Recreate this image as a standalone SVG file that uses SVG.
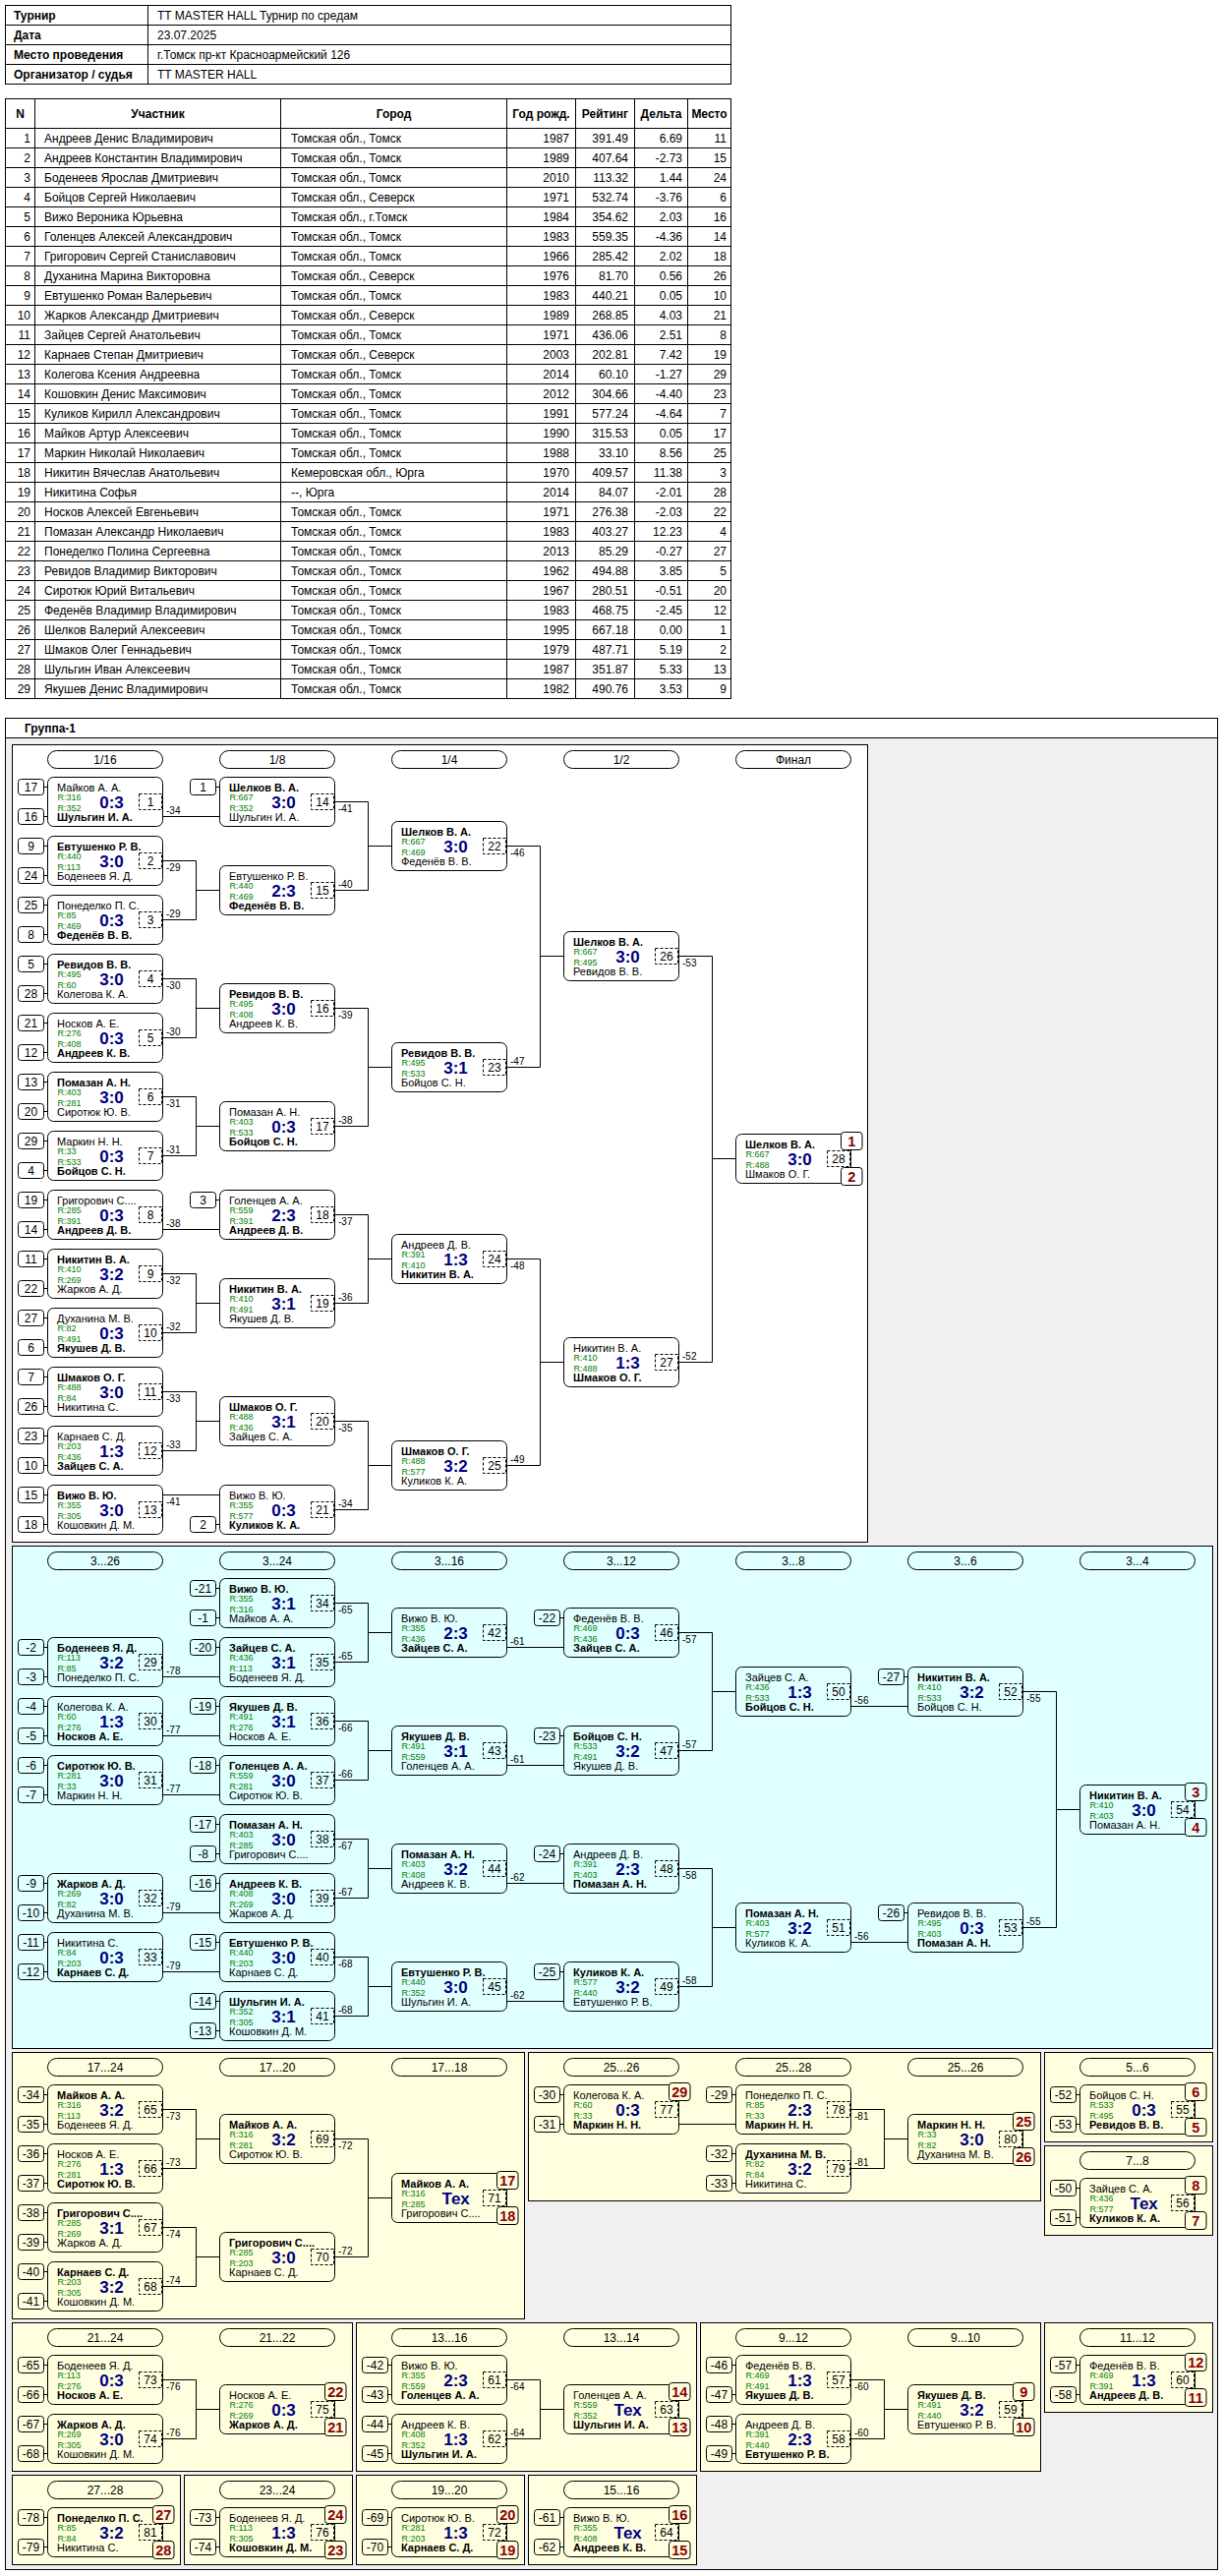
<svg xmlns="http://www.w3.org/2000/svg" width="1245" height="2620" viewBox="0 0 1245 2620">
<style>
text{font-family:"Liberation Sans",Arial,sans-serif;fill:#000}
.a{font-size:11px}
.b{font-weight:bold}
.r{font-size:9px;fill:#008000}
.s{font-size:17px;font-weight:bold;fill:#000080;text-anchor:middle}
.k{font-size:12px;text-anchor:middle}
.l{font-size:10px}
.p{font-size:14.5px;font-weight:bold;fill:#8b0000;text-anchor:middle}
.h{font-size:12px;text-anchor:middle}
.t{font-size:12px}
.tb{font-size:12px;font-weight:bold}
.ln{fill:none;stroke:#000;stroke-width:1}
.pn{stroke:#000;stroke-width:1}
</style>
<defs>
<g id="B"><rect x="0.5" y="0.5" width="117" height="50" rx="6" fill="none" stroke="#000"/><rect x="93.5" y="17.5" width="23" height="16" fill="none" stroke="#000" stroke-dasharray="3,2"/></g>
<g id="S1"><rect x="-29.5" y="2.5" width="26" height="16" rx="3" fill="none" stroke="#000"/><path d="M-3.5 10.5H0" stroke="#000"/></g>
<g id="S2"><rect x="-29.5" y="32.5" width="26" height="16" rx="3" fill="none" stroke="#000"/><path d="M-3.5 40.5H0" stroke="#000"/></g>
<rect id="P" width="21.5" height="18" rx="3" stroke="#000"/>
<rect id="H" x="0.5" y="0.5" width="117" height="18" rx="9" fill="none" stroke="#000"/>
</defs>
<rect width="1245" height="2620" fill="#fff"/>

<g id="info">
<rect x="5.5" y="5.5" width="738" height="80" fill="#fff" stroke="#000"/>
<path class="ln" d="M5.5 25.5H743.5M5.5 45.5H743.5M5.5 65.5H743.5M150.5 5.5V85.5"/>
<text class="tb" x="14" y="19.5">Турнир</text>
<text class="tb" x="14" y="39.5">Дата</text>
<text class="tb" x="14" y="59.5">Место проведения</text>
<text class="tb" x="14" y="79.5">Организатор / судья</text>
<text class="t" x="160" y="19.5">TT MASTER HALL Турнир по средам</text>
<text class="t" x="160" y="39.5">23.07.2025</text>
<text class="t" x="160" y="59.5">г.Томск пр-кт Красноармейский 126</text>
<text class="t" x="160" y="79.5">TT MASTER HALL</text>
</g>

<g id="participants">
<rect x="5.5" y="100.5" width="738" height="610" fill="#fff" stroke="#000"/>
<path class="ln" d="M5.5 130.5H743.5M5.5 150.5H743.5M5.5 170.5H743.5M5.5 190.5H743.5M5.5 210.5H743.5M5.5 230.5H743.5M5.5 250.5H743.5M5.5 270.5H743.5M5.5 290.5H743.5M5.5 310.5H743.5M5.5 330.5H743.5M5.5 350.5H743.5M5.5 370.5H743.5M5.5 390.5H743.5M5.5 410.5H743.5M5.5 430.5H743.5M5.5 450.5H743.5M5.5 470.5H743.5M5.5 490.5H743.5M5.5 510.5H743.5M5.5 530.5H743.5M5.5 550.5H743.5M5.5 570.5H743.5M5.5 590.5H743.5M5.5 610.5H743.5M5.5 630.5H743.5M5.5 650.5H743.5M5.5 670.5H743.5M5.5 690.5H743.5M35.5 100.5V710.5M285.5 100.5V710.5M515.5 100.5V710.5M585.5 100.5V710.5M645.5 100.5V710.5M699.5 100.5V710.5"/>
<g class="tb" text-anchor="middle">
<text x="20.5" y="119.5">N</text><text x="160.5" y="119.5">Участник</text><text x="400.5" y="119.5">Город</text><text x="550.5" y="119.5">Год рожд.</text><text x="615.5" y="119.5">Рейтинг</text><text x="672.5" y="119.5">Дельта</text><text x="721.5" y="119.5">Место</text>
</g>
<g class="t">
<text y="144.5"><tspan x="45">Андреев Денис Владимирович</tspan><tspan x="296">Томская обл., Томск</tspan></text>
<text y="144.5" text-anchor="end"><tspan x="31">1</tspan><tspan x="579">1987</tspan><tspan x="639">391.49</tspan><tspan x="694">6.69</tspan><tspan x="739">11</tspan></text>
<text y="164.5"><tspan x="45">Андреев Константин Владимирович</tspan><tspan x="296">Томская обл., Томск</tspan></text>
<text y="164.5" text-anchor="end"><tspan x="31">2</tspan><tspan x="579">1989</tspan><tspan x="639">407.64</tspan><tspan x="694">-2.73</tspan><tspan x="739">15</tspan></text>
<text y="184.5"><tspan x="45">Боденеев Ярослав Дмитриевич</tspan><tspan x="296">Томская обл., Томск</tspan></text>
<text y="184.5" text-anchor="end"><tspan x="31">3</tspan><tspan x="579">2010</tspan><tspan x="639">113.32</tspan><tspan x="694">1.44</tspan><tspan x="739">24</tspan></text>
<text y="204.5"><tspan x="45">Бойцов Сергей Николаевич</tspan><tspan x="296">Томская обл., Северск</tspan></text>
<text y="204.5" text-anchor="end"><tspan x="31">4</tspan><tspan x="579">1971</tspan><tspan x="639">532.74</tspan><tspan x="694">-3.76</tspan><tspan x="739">6</tspan></text>
<text y="224.5"><tspan x="45">Вижо Вероника Юрьевна</tspan><tspan x="296">Томская обл., г.Томск</tspan></text>
<text y="224.5" text-anchor="end"><tspan x="31">5</tspan><tspan x="579">1984</tspan><tspan x="639">354.62</tspan><tspan x="694">2.03</tspan><tspan x="739">16</tspan></text>
<text y="244.5"><tspan x="45">Голенцев Алексей Александрович</tspan><tspan x="296">Томская обл., Томск</tspan></text>
<text y="244.5" text-anchor="end"><tspan x="31">6</tspan><tspan x="579">1983</tspan><tspan x="639">559.35</tspan><tspan x="694">-4.36</tspan><tspan x="739">14</tspan></text>
<text y="264.5"><tspan x="45">Григорович Сергей Станиславович</tspan><tspan x="296">Томская обл., Томск</tspan></text>
<text y="264.5" text-anchor="end"><tspan x="31">7</tspan><tspan x="579">1966</tspan><tspan x="639">285.42</tspan><tspan x="694">2.02</tspan><tspan x="739">18</tspan></text>
<text y="284.5"><tspan x="45">Духанина Марина Викторовна</tspan><tspan x="296">Томская обл., Северск</tspan></text>
<text y="284.5" text-anchor="end"><tspan x="31">8</tspan><tspan x="579">1976</tspan><tspan x="639">81.70</tspan><tspan x="694">0.56</tspan><tspan x="739">26</tspan></text>
<text y="304.5"><tspan x="45">Евтушенко Роман Валерьевич</tspan><tspan x="296">Томская обл., Томск</tspan></text>
<text y="304.5" text-anchor="end"><tspan x="31">9</tspan><tspan x="579">1983</tspan><tspan x="639">440.21</tspan><tspan x="694">0.05</tspan><tspan x="739">10</tspan></text>
<text y="324.5"><tspan x="45">Жарков Александр Дмитриевич</tspan><tspan x="296">Томская обл., Северск</tspan></text>
<text y="324.5" text-anchor="end"><tspan x="31">10</tspan><tspan x="579">1989</tspan><tspan x="639">268.85</tspan><tspan x="694">4.03</tspan><tspan x="739">21</tspan></text>
<text y="344.5"><tspan x="45">Зайцев Сергей Анатольевич</tspan><tspan x="296">Томская обл., Томск</tspan></text>
<text y="344.5" text-anchor="end"><tspan x="31">11</tspan><tspan x="579">1971</tspan><tspan x="639">436.06</tspan><tspan x="694">2.51</tspan><tspan x="739">8</tspan></text>
<text y="364.5"><tspan x="45">Карнаев Степан Дмитриевич</tspan><tspan x="296">Томская обл., Северск</tspan></text>
<text y="364.5" text-anchor="end"><tspan x="31">12</tspan><tspan x="579">2003</tspan><tspan x="639">202.81</tspan><tspan x="694">7.42</tspan><tspan x="739">19</tspan></text>
<text y="384.5"><tspan x="45">Колегова Ксения Андреевна</tspan><tspan x="296">Томская обл., Томск</tspan></text>
<text y="384.5" text-anchor="end"><tspan x="31">13</tspan><tspan x="579">2014</tspan><tspan x="639">60.10</tspan><tspan x="694">-1.27</tspan><tspan x="739">29</tspan></text>
<text y="404.5"><tspan x="45">Кошовкин Денис Максимович</tspan><tspan x="296">Томская обл., Томск</tspan></text>
<text y="404.5" text-anchor="end"><tspan x="31">14</tspan><tspan x="579">2012</tspan><tspan x="639">304.66</tspan><tspan x="694">-4.40</tspan><tspan x="739">23</tspan></text>
<text y="424.5"><tspan x="45">Куликов Кирилл Александрович</tspan><tspan x="296">Томская обл., Томск</tspan></text>
<text y="424.5" text-anchor="end"><tspan x="31">15</tspan><tspan x="579">1991</tspan><tspan x="639">577.24</tspan><tspan x="694">-4.64</tspan><tspan x="739">7</tspan></text>
<text y="444.5"><tspan x="45">Майков Артур Алексеевич</tspan><tspan x="296">Томская обл., Томск</tspan></text>
<text y="444.5" text-anchor="end"><tspan x="31">16</tspan><tspan x="579">1990</tspan><tspan x="639">315.53</tspan><tspan x="694">0.05</tspan><tspan x="739">17</tspan></text>
<text y="464.5"><tspan x="45">Маркин Николай Николаевич</tspan><tspan x="296">Томская обл., Томск</tspan></text>
<text y="464.5" text-anchor="end"><tspan x="31">17</tspan><tspan x="579">1988</tspan><tspan x="639">33.10</tspan><tspan x="694">8.56</tspan><tspan x="739">25</tspan></text>
<text y="484.5"><tspan x="45">Никитин Вячеслав Анатольевич</tspan><tspan x="296">Кемеровская обл., Юрга</tspan></text>
<text y="484.5" text-anchor="end"><tspan x="31">18</tspan><tspan x="579">1970</tspan><tspan x="639">409.57</tspan><tspan x="694">11.38</tspan><tspan x="739">3</tspan></text>
<text y="504.5"><tspan x="45">Никитина Софья</tspan><tspan x="296">--, Юрга</tspan></text>
<text y="504.5" text-anchor="end"><tspan x="31">19</tspan><tspan x="579">2014</tspan><tspan x="639">84.07</tspan><tspan x="694">-2.01</tspan><tspan x="739">28</tspan></text>
<text y="524.5"><tspan x="45">Носков Алексей Евгеньевич</tspan><tspan x="296">Томская обл., Томск</tspan></text>
<text y="524.5" text-anchor="end"><tspan x="31">20</tspan><tspan x="579">1971</tspan><tspan x="639">276.38</tspan><tspan x="694">-2.03</tspan><tspan x="739">22</tspan></text>
<text y="544.5"><tspan x="45">Помазан Александр Николаевич</tspan><tspan x="296">Томская обл., Томск</tspan></text>
<text y="544.5" text-anchor="end"><tspan x="31">21</tspan><tspan x="579">1983</tspan><tspan x="639">403.27</tspan><tspan x="694">12.23</tspan><tspan x="739">4</tspan></text>
<text y="564.5"><tspan x="45">Понеделко Полина Сергеевна</tspan><tspan x="296">Томская обл., Томск</tspan></text>
<text y="564.5" text-anchor="end"><tspan x="31">22</tspan><tspan x="579">2013</tspan><tspan x="639">85.29</tspan><tspan x="694">-0.27</tspan><tspan x="739">27</tspan></text>
<text y="584.5"><tspan x="45">Ревидов Владимир Викторович</tspan><tspan x="296">Томская обл., Томск</tspan></text>
<text y="584.5" text-anchor="end"><tspan x="31">23</tspan><tspan x="579">1962</tspan><tspan x="639">494.88</tspan><tspan x="694">3.85</tspan><tspan x="739">5</tspan></text>
<text y="604.5"><tspan x="45">Сиротюк Юрий Витальевич</tspan><tspan x="296">Томская обл., Томск</tspan></text>
<text y="604.5" text-anchor="end"><tspan x="31">24</tspan><tspan x="579">1967</tspan><tspan x="639">280.51</tspan><tspan x="694">-0.51</tspan><tspan x="739">20</tspan></text>
<text y="624.5"><tspan x="45">Феденёв Владимир Владимирович</tspan><tspan x="296">Томская обл., Томск</tspan></text>
<text y="624.5" text-anchor="end"><tspan x="31">25</tspan><tspan x="579">1983</tspan><tspan x="639">468.75</tspan><tspan x="694">-2.45</tspan><tspan x="739">12</tspan></text>
<text y="644.5"><tspan x="45">Шелков Валерий Алексеевич</tspan><tspan x="296">Томская обл., Томск</tspan></text>
<text y="644.5" text-anchor="end"><tspan x="31">26</tspan><tspan x="579">1995</tspan><tspan x="639">667.18</tspan><tspan x="694">0.00</tspan><tspan x="739">1</tspan></text>
<text y="664.5"><tspan x="45">Шмаков Олег Геннадьевич</tspan><tspan x="296">Томская обл., Томск</tspan></text>
<text y="664.5" text-anchor="end"><tspan x="31">27</tspan><tspan x="579">1979</tspan><tspan x="639">487.71</tspan><tspan x="694">5.19</tspan><tspan x="739">2</tspan></text>
<text y="684.5"><tspan x="45">Шульгин Иван Алексеевич</tspan><tspan x="296">Томская обл., Томск</tspan></text>
<text y="684.5" text-anchor="end"><tspan x="31">28</tspan><tspan x="579">1987</tspan><tspan x="639">351.87</tspan><tspan x="694">5.33</tspan><tspan x="739">13</tspan></text>
<text y="704.5"><tspan x="45">Якушев Денис Владимирович</tspan><tspan x="296">Томская обл., Томск</tspan></text>
<text y="704.5" text-anchor="end"><tspan x="31">29</tspan><tspan x="579">1982</tspan><tspan x="639">490.76</tspan><tspan x="694">3.53</tspan><tspan x="739">9</tspan></text>
</g>
</g>

<g id="group1-frame">
<rect x="5.5" y="730.5" width="1233" height="1883" fill="#f0f0f0" stroke="#000"/>
<rect x="5.5" y="730.5" width="1233" height="20" fill="#fff" stroke="#000"/>
<text class="tb" x="25" y="745">Группа-1</text>
</g>

<g id="panels" class="pn">
<rect x="12.5" y="757.5" width="870" height="811" fill="#fff"/>
<rect x="12.5" y="1572.5" width="1221" height="511" fill="#e0ffff"/>
<rect x="12.5" y="2087.5" width="521" height="271" fill="#ffffe0"/>
<rect x="537.5" y="2087.5" width="521" height="151" fill="#ffffe0"/>
<rect x="1062.5" y="2087.5" width="171" height="91" fill="#ffffe0"/>
<rect x="1062.5" y="2182.5" width="171" height="91" fill="#ffffe0"/>
<rect x="12.5" y="2362.5" width="346" height="151" fill="#ffffe0"/>
<rect x="362.5" y="2362.5" width="346" height="151" fill="#ffffe0"/>
<rect x="712.5" y="2362.5" width="346" height="151" fill="#ffffe0"/>
<rect x="1062.5" y="2362.5" width="171" height="91" fill="#ffffe0"/>
<rect x="12.5" y="2517.5" width="171" height="91" fill="#ffffe0"/>
<rect x="187.5" y="2517.5" width="171" height="91" fill="#ffffe0"/>
<rect x="362.5" y="2517.5" width="171" height="91" fill="#ffffe0"/>
<rect x="537.5" y="2517.5" width="171" height="91" fill="#ffffe0"/>
</g>

<g id="round-headers">
<g transform="translate(48,763)"><use href="#H"/><text class="h" x="59" y="14">1/16</text></g>
<g transform="translate(223,763)"><use href="#H"/><text class="h" x="59" y="14">1/8</text></g>
<g transform="translate(398,763)"><use href="#H"/><text class="h" x="59" y="14">1/4</text></g>
<g transform="translate(573,763)"><use href="#H"/><text class="h" x="59" y="14">1/2</text></g>
<g transform="translate(748,763)"><use href="#H"/><text class="h" x="59" y="14">Финал</text></g>
<g transform="translate(48,1578)"><use href="#H"/><text class="h" x="59" y="14">3...26</text></g>
<g transform="translate(223,1578)"><use href="#H"/><text class="h" x="59" y="14">3...24</text></g>
<g transform="translate(398,1578)"><use href="#H"/><text class="h" x="59" y="14">3...16</text></g>
<g transform="translate(573,1578)"><use href="#H"/><text class="h" x="59" y="14">3...12</text></g>
<g transform="translate(748,1578)"><use href="#H"/><text class="h" x="59" y="14">3...8</text></g>
<g transform="translate(923,1578)"><use href="#H"/><text class="h" x="59" y="14">3...6</text></g>
<g transform="translate(1098,1578)"><use href="#H"/><text class="h" x="59" y="14">3...4</text></g>
<g transform="translate(48,2093)"><use href="#H"/><text class="h" x="59" y="14">17...24</text></g>
<g transform="translate(223,2093)"><use href="#H"/><text class="h" x="59" y="14">17...20</text></g>
<g transform="translate(398,2093)"><use href="#H"/><text class="h" x="59" y="14">17...18</text></g>
<g transform="translate(573,2093)"><use href="#H"/><text class="h" x="59" y="14">25...26</text></g>
<g transform="translate(748,2093)"><use href="#H"/><text class="h" x="59" y="14">25...28</text></g>
<g transform="translate(923,2093)"><use href="#H"/><text class="h" x="59" y="14">25...26</text></g>
<g transform="translate(1098,2093)"><use href="#H"/><text class="h" x="59" y="14">5...6</text></g>
<g transform="translate(1098,2188)"><use href="#H"/><text class="h" x="59" y="14">7...8</text></g>
<g transform="translate(48,2368)"><use href="#H"/><text class="h" x="59" y="14">21...24</text></g>
<g transform="translate(223,2368)"><use href="#H"/><text class="h" x="59" y="14">21...22</text></g>
<g transform="translate(398,2368)"><use href="#H"/><text class="h" x="59" y="14">13...16</text></g>
<g transform="translate(573,2368)"><use href="#H"/><text class="h" x="59" y="14">13...14</text></g>
<g transform="translate(748,2368)"><use href="#H"/><text class="h" x="59" y="14">9...12</text></g>
<g transform="translate(923,2368)"><use href="#H"/><text class="h" x="59" y="14">9...10</text></g>
<g transform="translate(1098,2368)"><use href="#H"/><text class="h" x="59" y="14">11...12</text></g>
<g transform="translate(48,2523)"><use href="#H"/><text class="h" x="59" y="14">27...28</text></g>
<g transform="translate(223,2523)"><use href="#H"/><text class="h" x="59" y="14">23...24</text></g>
<g transform="translate(398,2523)"><use href="#H"/><text class="h" x="59" y="14">19...20</text></g>
<g transform="translate(573,2523)"><use href="#H"/><text class="h" x="59" y="14">15...16</text></g>
</g>

<g id="connectors" class="ln">
<path d="M165.5 830.5H223.5"/>
<path d="M165.5 875.5H199.5V935.5H165.5M199.5 905.5H223.5"/>
<path d="M165.5 995.5H199.5V1055.5H165.5M199.5 1025.5H223.5"/>
<path d="M165.5 1115.5H199.5V1175.5H165.5M199.5 1145.5H223.5"/>
<path d="M165.5 1250.5H223.5"/>
<path d="M165.5 1295.5H199.5V1355.5H165.5M199.5 1325.5H223.5"/>
<path d="M165.5 1415.5H199.5V1475.5H165.5M199.5 1445.5H223.5"/>
<path d="M165.5 1520.5H223.5"/>
<path d="M340.5 815.5H374.5V905.5H340.5M374.5 860.5H398.5"/>
<path d="M340.5 1025.5H374.5V1145.5H340.5M374.5 1085.5H398.5"/>
<path d="M340.5 1235.5H374.5V1325.5H340.5M374.5 1280.5H398.5"/>
<path d="M340.5 1445.5H374.5V1535.5H340.5M374.5 1490.5H398.5"/>
<path d="M515.5 860.5H549.5V1085.5H515.5M549.5 972.5H573.5"/>
<path d="M515.5 1280.5H549.5V1490.5H515.5M549.5 1385.5H573.5"/>
<path d="M690.5 972.5H724.5V1385.5H690.5M724.5 1178.5H748.5"/>
<path d="M165.5 1705.5H223.5"/>
<path d="M165.5 1765.5H223.5"/>
<path d="M165.5 1825.5H223.5"/>
<path d="M165.5 1945.5H223.5"/>
<path d="M165.5 2005.5H223.5"/>
<path d="M340.5 1630.5H374.5V1690.5H340.5M374.5 1660.5H398.5"/>
<path d="M340.5 1750.5H374.5V1810.5H340.5M374.5 1780.5H398.5"/>
<path d="M340.5 1870.5H374.5V1930.5H340.5M374.5 1900.5H398.5"/>
<path d="M340.5 1990.5H374.5V2050.5H340.5M374.5 2020.5H398.5"/>
<path d="M515.5 1675.5H573.5"/>
<path d="M515.5 1795.5H573.5"/>
<path d="M515.5 1915.5H573.5"/>
<path d="M515.5 2035.5H573.5"/>
<path d="M690.5 1660.5H724.5V1780.5H690.5M724.5 1720.5H748.5"/>
<path d="M690.5 1900.5H724.5V2020.5H690.5M724.5 1960.5H748.5"/>
<path d="M865.5 1735.5H923.5"/>
<path d="M865.5 1975.5H923.5"/>
<path d="M1040.5 1720.5H1074.5V1960.5H1040.5M1074.5 1840.5H1098.5"/>
<path d="M165.5 2145.5H199.5V2205.5H165.5M199.5 2175.5H223.5"/>
<path d="M165.5 2265.5H199.5V2325.5H165.5M199.5 2295.5H223.5"/>
<path d="M340.5 2175.5H374.5V2295.5H340.5M374.5 2235.5H398.5"/>
<path d="M690.5 2160.5H748.5"/>
<path d="M865.5 2145.5H899.5V2205.5H865.5M899.5 2175.5H923.5"/>
<path d="M165.5 2420.5H199.5V2480.5H165.5M199.5 2450.5H223.5"/>
<path d="M515.5 2420.5H549.5V2480.5H515.5M549.5 2450.5H573.5"/>
<path d="M865.5 2420.5H899.5V2480.5H865.5M899.5 2450.5H923.5"/>
</g>

<g id="nodes">
<g id="m1" transform="translate(48,790)"><use href="#B"/><use href="#S1"/><use href="#S2"/><text class="k" x="-16.5" y="15">17</text><text class="k" x="-16.5" y="45">16</text><text class="a" x="10" y="14.5">Майков А. А.</text><text class="r" x="10.5" y="24">R:316</text><text class="r" x="10.5" y="35">R:352</text><text class="a b" x="10" y="45">Шульгин И. А.</text><text class="s" x="65.5" y="31.5">0:3</text><text class="k" x="105" y="29.5">1</text><text class="l" x="121" y="38">-34</text></g>
<g id="m2" transform="translate(48,850)"><use href="#B"/><use href="#S1"/><use href="#S2"/><text class="k" x="-16.5" y="15">9</text><text class="k" x="-16.5" y="45">24</text><text class="a b" x="10" y="14.5">Евтушенко Р. В.</text><text class="r" x="10.5" y="24">R:440</text><text class="r" x="10.5" y="35">R:113</text><text class="a" x="10" y="45">Боденеев Я. Д.</text><text class="s" x="65.5" y="31.5">3:0</text><text class="k" x="105" y="29.5">2</text><text class="l" x="121" y="36">-29</text></g>
<g id="m3" transform="translate(48,910)"><use href="#B"/><use href="#S1"/><use href="#S2"/><text class="k" x="-16.5" y="15">25</text><text class="k" x="-16.5" y="45">8</text><text class="a" x="10" y="14.5">Понеделко П. С.</text><text class="r" x="10.5" y="24">R:85</text><text class="r" x="10.5" y="35">R:469</text><text class="a b" x="10" y="45">Феденёв В. В.</text><text class="s" x="65.5" y="31.5">0:3</text><text class="k" x="105" y="29.5">3</text><text class="l" x="121" y="23">-29</text></g>
<g id="m4" transform="translate(48,970)"><use href="#B"/><use href="#S1"/><use href="#S2"/><text class="k" x="-16.5" y="15">5</text><text class="k" x="-16.5" y="45">28</text><text class="a b" x="10" y="14.5">Ревидов В. В.</text><text class="r" x="10.5" y="24">R:495</text><text class="r" x="10.5" y="35">R:60</text><text class="a" x="10" y="45">Колегова К. А.</text><text class="s" x="65.5" y="31.5">3:0</text><text class="k" x="105" y="29.5">4</text><text class="l" x="121" y="36">-30</text></g>
<g id="m5" transform="translate(48,1030)"><use href="#B"/><use href="#S1"/><use href="#S2"/><text class="k" x="-16.5" y="15">21</text><text class="k" x="-16.5" y="45">12</text><text class="a" x="10" y="14.5">Носков А. Е.</text><text class="r" x="10.5" y="24">R:276</text><text class="r" x="10.5" y="35">R:408</text><text class="a b" x="10" y="45">Андреев К. В.</text><text class="s" x="65.5" y="31.5">0:3</text><text class="k" x="105" y="29.5">5</text><text class="l" x="121" y="23">-30</text></g>
<g id="m6" transform="translate(48,1090)"><use href="#B"/><use href="#S1"/><use href="#S2"/><text class="k" x="-16.5" y="15">13</text><text class="k" x="-16.5" y="45">20</text><text class="a b" x="10" y="14.5">Помазан А. Н.</text><text class="r" x="10.5" y="24">R:403</text><text class="r" x="10.5" y="35">R:281</text><text class="a" x="10" y="45">Сиротюк Ю. В.</text><text class="s" x="65.5" y="31.5">3:0</text><text class="k" x="105" y="29.5">6</text><text class="l" x="121" y="36">-31</text></g>
<g id="m7" transform="translate(48,1150)"><use href="#B"/><use href="#S1"/><use href="#S2"/><text class="k" x="-16.5" y="15">29</text><text class="k" x="-16.5" y="45">4</text><text class="a" x="10" y="14.5">Маркин Н. Н.</text><text class="r" x="10.5" y="24">R:33</text><text class="r" x="10.5" y="35">R:533</text><text class="a b" x="10" y="45">Бойцов С. Н.</text><text class="s" x="65.5" y="31.5">0:3</text><text class="k" x="105" y="29.5">7</text><text class="l" x="121" y="23">-31</text></g>
<g id="m8" transform="translate(48,1210)"><use href="#B"/><use href="#S1"/><use href="#S2"/><text class="k" x="-16.5" y="15">19</text><text class="k" x="-16.5" y="45">14</text><text class="a" x="10" y="14.5">Григорович С....</text><text class="r" x="10.5" y="24">R:285</text><text class="r" x="10.5" y="35">R:391</text><text class="a b" x="10" y="45">Андреев Д. В.</text><text class="s" x="65.5" y="31.5">0:3</text><text class="k" x="105" y="29.5">8</text><text class="l" x="121" y="38">-38</text></g>
<g id="m9" transform="translate(48,1270)"><use href="#B"/><use href="#S1"/><use href="#S2"/><text class="k" x="-16.5" y="15">11</text><text class="k" x="-16.5" y="45">22</text><text class="a b" x="10" y="14.5">Никитин В. А.</text><text class="r" x="10.5" y="24">R:410</text><text class="r" x="10.5" y="35">R:269</text><text class="a" x="10" y="45">Жарков А. Д.</text><text class="s" x="65.5" y="31.5">3:2</text><text class="k" x="105" y="29.5">9</text><text class="l" x="121" y="36">-32</text></g>
<g id="m10" transform="translate(48,1330)"><use href="#B"/><use href="#S1"/><use href="#S2"/><text class="k" x="-16.5" y="15">27</text><text class="k" x="-16.5" y="45">6</text><text class="a" x="10" y="14.5">Духанина М. В.</text><text class="r" x="10.5" y="24">R:82</text><text class="r" x="10.5" y="35">R:491</text><text class="a b" x="10" y="45">Якушев Д. В.</text><text class="s" x="65.5" y="31.5">0:3</text><text class="k" x="105" y="29.5">10</text><text class="l" x="121" y="23">-32</text></g>
<g id="m11" transform="translate(48,1390)"><use href="#B"/><use href="#S1"/><use href="#S2"/><text class="k" x="-16.5" y="15">7</text><text class="k" x="-16.5" y="45">26</text><text class="a b" x="10" y="14.5">Шмаков О. Г.</text><text class="r" x="10.5" y="24">R:488</text><text class="r" x="10.5" y="35">R:84</text><text class="a" x="10" y="45">Никитина С.</text><text class="s" x="65.5" y="31.5">3:0</text><text class="k" x="105" y="29.5">11</text><text class="l" x="121" y="36">-33</text></g>
<g id="m12" transform="translate(48,1450)"><use href="#B"/><use href="#S1"/><use href="#S2"/><text class="k" x="-16.5" y="15">23</text><text class="k" x="-16.5" y="45">10</text><text class="a" x="10" y="14.5">Карнаев С. Д.</text><text class="r" x="10.5" y="24">R:203</text><text class="r" x="10.5" y="35">R:436</text><text class="a b" x="10" y="45">Зайцев С. А.</text><text class="s" x="65.5" y="31.5">1:3</text><text class="k" x="105" y="29.5">12</text><text class="l" x="121" y="23">-33</text></g>
<g id="m13" transform="translate(48,1510)"><use href="#B"/><use href="#S1"/><use href="#S2"/><text class="k" x="-16.5" y="15">15</text><text class="k" x="-16.5" y="45">18</text><text class="a b" x="10" y="14.5">Вижо В. Ю.</text><text class="r" x="10.5" y="24">R:355</text><text class="r" x="10.5" y="35">R:305</text><text class="a" x="10" y="45">Кошовкин Д. М.</text><text class="s" x="65.5" y="31.5">3:0</text><text class="k" x="105" y="29.5">13</text><text class="l" x="121" y="21">-41</text></g>
<g id="m14" transform="translate(223,790)"><use href="#B"/><use href="#S1"/><text class="k" x="-16.5" y="15">1</text><text class="a b" x="10" y="14.5">Шелков В. А.</text><text class="r" x="10.5" y="24">R:667</text><text class="r" x="10.5" y="35">R:352</text><text class="a" x="10" y="45">Шульгин И. А.</text><text class="s" x="65.5" y="31.5">3:0</text><text class="k" x="105" y="29.5">14</text><text class="l" x="121" y="36">-41</text></g>
<g id="m15" transform="translate(223,880)"><use href="#B"/><text class="a" x="10" y="14.5">Евтушенко Р. В.</text><text class="r" x="10.5" y="24">R:440</text><text class="r" x="10.5" y="35">R:469</text><text class="a b" x="10" y="45">Феденёв В. В.</text><text class="s" x="65.5" y="31.5">2:3</text><text class="k" x="105" y="29.5">15</text><text class="l" x="121" y="23">-40</text></g>
<g id="m16" transform="translate(223,1000)"><use href="#B"/><text class="a b" x="10" y="14.5">Ревидов В. В.</text><text class="r" x="10.5" y="24">R:495</text><text class="r" x="10.5" y="35">R:408</text><text class="a" x="10" y="45">Андреев К. В.</text><text class="s" x="65.5" y="31.5">3:0</text><text class="k" x="105" y="29.5">16</text><text class="l" x="121" y="36">-39</text></g>
<g id="m17" transform="translate(223,1120)"><use href="#B"/><text class="a" x="10" y="14.5">Помазан А. Н.</text><text class="r" x="10.5" y="24">R:403</text><text class="r" x="10.5" y="35">R:533</text><text class="a b" x="10" y="45">Бойцов С. Н.</text><text class="s" x="65.5" y="31.5">0:3</text><text class="k" x="105" y="29.5">17</text><text class="l" x="121" y="23">-38</text></g>
<g id="m18" transform="translate(223,1210)"><use href="#B"/><use href="#S1"/><text class="k" x="-16.5" y="15">3</text><text class="a" x="10" y="14.5">Голенцев А. А.</text><text class="r" x="10.5" y="24">R:559</text><text class="r" x="10.5" y="35">R:391</text><text class="a b" x="10" y="45">Андреев Д. В.</text><text class="s" x="65.5" y="31.5">2:3</text><text class="k" x="105" y="29.5">18</text><text class="l" x="121" y="36">-37</text></g>
<g id="m19" transform="translate(223,1300)"><use href="#B"/><text class="a b" x="10" y="14.5">Никитин В. А.</text><text class="r" x="10.5" y="24">R:410</text><text class="r" x="10.5" y="35">R:491</text><text class="a" x="10" y="45">Якушев Д. В.</text><text class="s" x="65.5" y="31.5">3:1</text><text class="k" x="105" y="29.5">19</text><text class="l" x="121" y="23">-36</text></g>
<g id="m20" transform="translate(223,1420)"><use href="#B"/><text class="a b" x="10" y="14.5">Шмаков О. Г.</text><text class="r" x="10.5" y="24">R:488</text><text class="r" x="10.5" y="35">R:436</text><text class="a" x="10" y="45">Зайцев С. А.</text><text class="s" x="65.5" y="31.5">3:1</text><text class="k" x="105" y="29.5">20</text><text class="l" x="121" y="36">-35</text></g>
<g id="m21" transform="translate(223,1510)"><use href="#B"/><use href="#S2"/><text class="k" x="-16.5" y="45">2</text><text class="a" x="10" y="14.5">Вижо В. Ю.</text><text class="r" x="10.5" y="24">R:355</text><text class="r" x="10.5" y="35">R:577</text><text class="a b" x="10" y="45">Куликов К. А.</text><text class="s" x="65.5" y="31.5">0:3</text><text class="k" x="105" y="29.5">21</text><text class="l" x="121" y="23">-34</text></g>
<g id="m22" transform="translate(398,835)"><use href="#B"/><text class="a b" x="10" y="14.5">Шелков В. А.</text><text class="r" x="10.5" y="24">R:667</text><text class="r" x="10.5" y="35">R:469</text><text class="a" x="10" y="45">Феденёв В. В.</text><text class="s" x="65.5" y="31.5">3:0</text><text class="k" x="105" y="29.5">22</text><text class="l" x="121" y="36">-46</text></g>
<g id="m23" transform="translate(398,1060)"><use href="#B"/><text class="a b" x="10" y="14.5">Ревидов В. В.</text><text class="r" x="10.5" y="24">R:495</text><text class="r" x="10.5" y="35">R:533</text><text class="a" x="10" y="45">Бойцов С. Н.</text><text class="s" x="65.5" y="31.5">3:1</text><text class="k" x="105" y="29.5">23</text><text class="l" x="121" y="23">-47</text></g>
<g id="m24" transform="translate(398,1255)"><use href="#B"/><text class="a" x="10" y="14.5">Андреев Д. В.</text><text class="r" x="10.5" y="24">R:391</text><text class="r" x="10.5" y="35">R:410</text><text class="a b" x="10" y="45">Никитин В. А.</text><text class="s" x="65.5" y="31.5">1:3</text><text class="k" x="105" y="29.5">24</text><text class="l" x="121" y="36">-48</text></g>
<g id="m25" transform="translate(398,1465)"><use href="#B"/><text class="a b" x="10" y="14.5">Шмаков О. Г.</text><text class="r" x="10.5" y="24">R:488</text><text class="r" x="10.5" y="35">R:577</text><text class="a" x="10" y="45">Куликов К. А.</text><text class="s" x="65.5" y="31.5">3:2</text><text class="k" x="105" y="29.5">25</text><text class="l" x="121" y="23">-49</text></g>
<g id="m26" transform="translate(573,947)"><use href="#B"/><text class="a b" x="10" y="14.5">Шелков В. А.</text><text class="r" x="10.5" y="24">R:667</text><text class="r" x="10.5" y="35">R:495</text><text class="a" x="10" y="45">Ревидов В. В.</text><text class="s" x="65.5" y="31.5">3:0</text><text class="k" x="105" y="29.5">26</text><text class="l" x="121" y="36">-53</text></g>
<g id="m27" transform="translate(573,1360)"><use href="#B"/><text class="a" x="10" y="14.5">Никитин В. А.</text><text class="r" x="10.5" y="24">R:410</text><text class="r" x="10.5" y="35">R:488</text><text class="a b" x="10" y="45">Шмаков О. Г.</text><text class="s" x="65.5" y="31.5">1:3</text><text class="k" x="105" y="29.5">27</text><text class="l" x="121" y="23">-52</text></g>
<g id="m28" transform="translate(748,1153)"><use href="#B"/><text class="a b" x="10" y="14.5">Шелков В. А.</text><text class="r" x="10.5" y="24">R:667</text><text class="r" x="10.5" y="35">R:488</text><text class="a" x="10" y="45">Шмаков О. Г.</text><text class="s" x="65.5" y="31.5">3:0</text><text class="k" x="105" y="29.5">28</text><use href="#P" x="107.5" y="-1.5" fill="#fff"/><text class="p" x="118.25" y="13">1</text><use href="#P" x="107.5" y="34.5" fill="#fff"/><text class="p" x="118.25" y="49">2</text></g>

<g id="m29" transform="translate(48,1665)"><use href="#B"/><use href="#S1"/><use href="#S2"/><text class="k" x="-16.5" y="15">-2</text><text class="k" x="-16.5" y="45">-3</text><text class="a b" x="10" y="14.5">Боденеев Я. Д.</text><text class="r" x="10.5" y="24">R:113</text><text class="r" x="10.5" y="35">R:85</text><text class="a" x="10" y="45">Понеделко П. С.</text><text class="s" x="65.5" y="31.5">3:2</text><text class="k" x="105" y="29.5">29</text><text class="l" x="121" y="38">-78</text></g>
<g id="m30" transform="translate(48,1725)"><use href="#B"/><use href="#S1"/><use href="#S2"/><text class="k" x="-16.5" y="15">-4</text><text class="k" x="-16.5" y="45">-5</text><text class="a" x="10" y="14.5">Колегова К. А.</text><text class="r" x="10.5" y="24">R:60</text><text class="r" x="10.5" y="35">R:276</text><text class="a b" x="10" y="45">Носков А. Е.</text><text class="s" x="65.5" y="31.5">1:3</text><text class="k" x="105" y="29.5">30</text><text class="l" x="121" y="38">-77</text></g>
<g id="m31" transform="translate(48,1785)"><use href="#B"/><use href="#S1"/><use href="#S2"/><text class="k" x="-16.5" y="15">-6</text><text class="k" x="-16.5" y="45">-7</text><text class="a b" x="10" y="14.5">Сиротюк Ю. В.</text><text class="r" x="10.5" y="24">R:281</text><text class="r" x="10.5" y="35">R:33</text><text class="a" x="10" y="45">Маркин Н. Н.</text><text class="s" x="65.5" y="31.5">3:0</text><text class="k" x="105" y="29.5">31</text><text class="l" x="121" y="38">-77</text></g>
<g id="m32" transform="translate(48,1905)"><use href="#B"/><use href="#S1"/><use href="#S2"/><text class="k" x="-16.5" y="15">-9</text><text class="k" x="-16.5" y="45">-10</text><text class="a b" x="10" y="14.5">Жарков А. Д.</text><text class="r" x="10.5" y="24">R:269</text><text class="r" x="10.5" y="35">R:82</text><text class="a" x="10" y="45">Духанина М. В.</text><text class="s" x="65.5" y="31.5">3:0</text><text class="k" x="105" y="29.5">32</text><text class="l" x="121" y="38">-79</text></g>
<g id="m33" transform="translate(48,1965)"><use href="#B"/><use href="#S1"/><use href="#S2"/><text class="k" x="-16.5" y="15">-11</text><text class="k" x="-16.5" y="45">-12</text><text class="a" x="10" y="14.5">Никитина С.</text><text class="r" x="10.5" y="24">R:84</text><text class="r" x="10.5" y="35">R:203</text><text class="a b" x="10" y="45">Карнаев С. Д.</text><text class="s" x="65.5" y="31.5">0:3</text><text class="k" x="105" y="29.5">33</text><text class="l" x="121" y="38">-79</text></g>
<g id="m34" transform="translate(223,1605)"><use href="#B"/><use href="#S1"/><use href="#S2"/><text class="k" x="-16.5" y="15">-21</text><text class="k" x="-16.5" y="45">-1</text><text class="a b" x="10" y="14.5">Вижо В. Ю.</text><text class="r" x="10.5" y="24">R:355</text><text class="r" x="10.5" y="35">R:316</text><text class="a" x="10" y="45">Майков А. А.</text><text class="s" x="65.5" y="31.5">3:1</text><text class="k" x="105" y="29.5">34</text><text class="l" x="121" y="36">-65</text></g>
<g id="m35" transform="translate(223,1665)"><use href="#B"/><use href="#S1"/><text class="k" x="-16.5" y="15">-20</text><text class="a b" x="10" y="14.5">Зайцев С. А.</text><text class="r" x="10.5" y="24">R:436</text><text class="r" x="10.5" y="35">R:113</text><text class="a" x="10" y="45">Боденеев Я. Д.</text><text class="s" x="65.5" y="31.5">3:1</text><text class="k" x="105" y="29.5">35</text><text class="l" x="121" y="23">-65</text></g>
<g id="m36" transform="translate(223,1725)"><use href="#B"/><use href="#S1"/><text class="k" x="-16.5" y="15">-19</text><text class="a b" x="10" y="14.5">Якушев Д. В.</text><text class="r" x="10.5" y="24">R:491</text><text class="r" x="10.5" y="35">R:276</text><text class="a" x="10" y="45">Носков А. Е.</text><text class="s" x="65.5" y="31.5">3:1</text><text class="k" x="105" y="29.5">36</text><text class="l" x="121" y="36">-66</text></g>
<g id="m37" transform="translate(223,1785)"><use href="#B"/><use href="#S1"/><text class="k" x="-16.5" y="15">-18</text><text class="a b" x="10" y="14.5">Голенцев А. А.</text><text class="r" x="10.5" y="24">R:559</text><text class="r" x="10.5" y="35">R:281</text><text class="a" x="10" y="45">Сиротюк Ю. В.</text><text class="s" x="65.5" y="31.5">3:0</text><text class="k" x="105" y="29.5">37</text><text class="l" x="121" y="23">-66</text></g>
<g id="m38" transform="translate(223,1845)"><use href="#B"/><use href="#S1"/><use href="#S2"/><text class="k" x="-16.5" y="15">-17</text><text class="k" x="-16.5" y="45">-8</text><text class="a b" x="10" y="14.5">Помазан А. Н.</text><text class="r" x="10.5" y="24">R:403</text><text class="r" x="10.5" y="35">R:285</text><text class="a" x="10" y="45">Григорович С....</text><text class="s" x="65.5" y="31.5">3:0</text><text class="k" x="105" y="29.5">38</text><text class="l" x="121" y="36">-67</text></g>
<g id="m39" transform="translate(223,1905)"><use href="#B"/><use href="#S1"/><text class="k" x="-16.5" y="15">-16</text><text class="a b" x="10" y="14.5">Андреев К. В.</text><text class="r" x="10.5" y="24">R:408</text><text class="r" x="10.5" y="35">R:269</text><text class="a" x="10" y="45">Жарков А. Д.</text><text class="s" x="65.5" y="31.5">3:0</text><text class="k" x="105" y="29.5">39</text><text class="l" x="121" y="23">-67</text></g>
<g id="m40" transform="translate(223,1965)"><use href="#B"/><use href="#S1"/><text class="k" x="-16.5" y="15">-15</text><text class="a b" x="10" y="14.5">Евтушенко Р. В.</text><text class="r" x="10.5" y="24">R:440</text><text class="r" x="10.5" y="35">R:203</text><text class="a" x="10" y="45">Карнаев С. Д.</text><text class="s" x="65.5" y="31.5">3:0</text><text class="k" x="105" y="29.5">40</text><text class="l" x="121" y="36">-68</text></g>
<g id="m41" transform="translate(223,2025)"><use href="#B"/><use href="#S1"/><use href="#S2"/><text class="k" x="-16.5" y="15">-14</text><text class="k" x="-16.5" y="45">-13</text><text class="a b" x="10" y="14.5">Шульгин И. А.</text><text class="r" x="10.5" y="24">R:352</text><text class="r" x="10.5" y="35">R:305</text><text class="a" x="10" y="45">Кошовкин Д. М.</text><text class="s" x="65.5" y="31.5">3:1</text><text class="k" x="105" y="29.5">41</text><text class="l" x="121" y="23">-68</text></g>
<g id="m42" transform="translate(398,1635)"><use href="#B"/><text class="a" x="10" y="14.5">Вижо В. Ю.</text><text class="r" x="10.5" y="24">R:355</text><text class="r" x="10.5" y="35">R:436</text><text class="a b" x="10" y="45">Зайцев С. А.</text><text class="s" x="65.5" y="31.5">2:3</text><text class="k" x="105" y="29.5">42</text><text class="l" x="121" y="38">-61</text></g>
<g id="m43" transform="translate(398,1755)"><use href="#B"/><text class="a b" x="10" y="14.5">Якушев Д. В.</text><text class="r" x="10.5" y="24">R:491</text><text class="r" x="10.5" y="35">R:559</text><text class="a" x="10" y="45">Голенцев А. А.</text><text class="s" x="65.5" y="31.5">3:1</text><text class="k" x="105" y="29.5">43</text><text class="l" x="121" y="38">-61</text></g>
<g id="m44" transform="translate(398,1875)"><use href="#B"/><text class="a b" x="10" y="14.5">Помазан А. Н.</text><text class="r" x="10.5" y="24">R:403</text><text class="r" x="10.5" y="35">R:408</text><text class="a" x="10" y="45">Андреев К. В.</text><text class="s" x="65.5" y="31.5">3:2</text><text class="k" x="105" y="29.5">44</text><text class="l" x="121" y="38">-62</text></g>
<g id="m45" transform="translate(398,1995)"><use href="#B"/><text class="a b" x="10" y="14.5">Евтушенко Р. В.</text><text class="r" x="10.5" y="24">R:440</text><text class="r" x="10.5" y="35">R:352</text><text class="a" x="10" y="45">Шульгин И. А.</text><text class="s" x="65.5" y="31.5">3:0</text><text class="k" x="105" y="29.5">45</text><text class="l" x="121" y="38">-62</text></g>
<g id="m46" transform="translate(573,1635)"><use href="#B"/><use href="#S1"/><text class="k" x="-16.5" y="15">-22</text><text class="a" x="10" y="14.5">Феденёв В. В.</text><text class="r" x="10.5" y="24">R:469</text><text class="r" x="10.5" y="35">R:436</text><text class="a b" x="10" y="45">Зайцев С. А.</text><text class="s" x="65.5" y="31.5">0:3</text><text class="k" x="105" y="29.5">46</text><text class="l" x="121" y="36">-57</text></g>
<g id="m47" transform="translate(573,1755)"><use href="#B"/><use href="#S1"/><text class="k" x="-16.5" y="15">-23</text><text class="a b" x="10" y="14.5">Бойцов С. Н.</text><text class="r" x="10.5" y="24">R:533</text><text class="r" x="10.5" y="35">R:491</text><text class="a" x="10" y="45">Якушев Д. В.</text><text class="s" x="65.5" y="31.5">3:2</text><text class="k" x="105" y="29.5">47</text><text class="l" x="121" y="23">-57</text></g>
<g id="m48" transform="translate(573,1875)"><use href="#B"/><use href="#S1"/><text class="k" x="-16.5" y="15">-24</text><text class="a" x="10" y="14.5">Андреев Д. В.</text><text class="r" x="10.5" y="24">R:391</text><text class="r" x="10.5" y="35">R:403</text><text class="a b" x="10" y="45">Помазан А. Н.</text><text class="s" x="65.5" y="31.5">2:3</text><text class="k" x="105" y="29.5">48</text><text class="l" x="121" y="36">-58</text></g>
<g id="m49" transform="translate(573,1995)"><use href="#B"/><use href="#S1"/><text class="k" x="-16.5" y="15">-25</text><text class="a b" x="10" y="14.5">Куликов К. А.</text><text class="r" x="10.5" y="24">R:577</text><text class="r" x="10.5" y="35">R:440</text><text class="a" x="10" y="45">Евтушенко Р. В.</text><text class="s" x="65.5" y="31.5">3:2</text><text class="k" x="105" y="29.5">49</text><text class="l" x="121" y="23">-58</text></g>
<g id="m50" transform="translate(748,1695)"><use href="#B"/><text class="a" x="10" y="14.5">Зайцев С. А.</text><text class="r" x="10.5" y="24">R:436</text><text class="r" x="10.5" y="35">R:533</text><text class="a b" x="10" y="45">Бойцов С. Н.</text><text class="s" x="65.5" y="31.5">1:3</text><text class="k" x="105" y="29.5">50</text><text class="l" x="121" y="38">-56</text></g>
<g id="m51" transform="translate(748,1935)"><use href="#B"/><text class="a b" x="10" y="14.5">Помазан А. Н.</text><text class="r" x="10.5" y="24">R:403</text><text class="r" x="10.5" y="35">R:577</text><text class="a" x="10" y="45">Куликов К. А.</text><text class="s" x="65.5" y="31.5">3:2</text><text class="k" x="105" y="29.5">51</text><text class="l" x="121" y="38">-56</text></g>
<g id="m52" transform="translate(923,1695)"><use href="#B"/><use href="#S1"/><text class="k" x="-16.5" y="15">-27</text><text class="a b" x="10" y="14.5">Никитин В. А.</text><text class="r" x="10.5" y="24">R:410</text><text class="r" x="10.5" y="35">R:533</text><text class="a" x="10" y="45">Бойцов С. Н.</text><text class="s" x="65.5" y="31.5">3:2</text><text class="k" x="105" y="29.5">52</text><text class="l" x="121" y="36">-55</text></g>
<g id="m53" transform="translate(923,1935)"><use href="#B"/><use href="#S1"/><text class="k" x="-16.5" y="15">-26</text><text class="a" x="10" y="14.5">Ревидов В. В.</text><text class="r" x="10.5" y="24">R:495</text><text class="r" x="10.5" y="35">R:403</text><text class="a b" x="10" y="45">Помазан А. Н.</text><text class="s" x="65.5" y="31.5">0:3</text><text class="k" x="105" y="29.5">53</text><text class="l" x="121" y="23">-55</text></g>
<g id="m54" transform="translate(1098,1815)"><use href="#B"/><text class="a b" x="10" y="14.5">Никитин В. А.</text><text class="r" x="10.5" y="24">R:410</text><text class="r" x="10.5" y="35">R:403</text><text class="a" x="10" y="45">Помазан А. Н.</text><text class="s" x="65.5" y="31.5">3:0</text><text class="k" x="105" y="29.5">54</text><use href="#P" x="107.5" y="-1.5" fill="#e0ffff"/><text class="p" x="118.25" y="13">3</text><use href="#P" x="107.5" y="34.5" fill="#e0ffff"/><text class="p" x="118.25" y="49">4</text></g>

<g id="m65" transform="translate(48,2120)"><use href="#B"/><use href="#S1"/><use href="#S2"/><text class="k" x="-16.5" y="15">-34</text><text class="k" x="-16.5" y="45">-35</text><text class="a b" x="10" y="14.5">Майков А. А.</text><text class="r" x="10.5" y="24">R:316</text><text class="r" x="10.5" y="35">R:113</text><text class="a" x="10" y="45">Боденеев Я. Д.</text><text class="s" x="65.5" y="31.5">3:2</text><text class="k" x="105" y="29.5">65</text><text class="l" x="121" y="36">-73</text></g>
<g id="m66" transform="translate(48,2180)"><use href="#B"/><use href="#S1"/><use href="#S2"/><text class="k" x="-16.5" y="15">-36</text><text class="k" x="-16.5" y="45">-37</text><text class="a" x="10" y="14.5">Носков А. Е.</text><text class="r" x="10.5" y="24">R:276</text><text class="r" x="10.5" y="35">R:281</text><text class="a b" x="10" y="45">Сиротюк Ю. В.</text><text class="s" x="65.5" y="31.5">1:3</text><text class="k" x="105" y="29.5">66</text><text class="l" x="121" y="23">-73</text></g>
<g id="m67" transform="translate(48,2240)"><use href="#B"/><use href="#S1"/><use href="#S2"/><text class="k" x="-16.5" y="15">-38</text><text class="k" x="-16.5" y="45">-39</text><text class="a b" x="10" y="14.5">Григорович С....</text><text class="r" x="10.5" y="24">R:285</text><text class="r" x="10.5" y="35">R:269</text><text class="a" x="10" y="45">Жарков А. Д.</text><text class="s" x="65.5" y="31.5">3:1</text><text class="k" x="105" y="29.5">67</text><text class="l" x="121" y="36">-74</text></g>
<g id="m68" transform="translate(48,2300)"><use href="#B"/><use href="#S1"/><use href="#S2"/><text class="k" x="-16.5" y="15">-40</text><text class="k" x="-16.5" y="45">-41</text><text class="a b" x="10" y="14.5">Карнаев С. Д.</text><text class="r" x="10.5" y="24">R:203</text><text class="r" x="10.5" y="35">R:305</text><text class="a" x="10" y="45">Кошовкин Д. М.</text><text class="s" x="65.5" y="31.5">3:2</text><text class="k" x="105" y="29.5">68</text><text class="l" x="121" y="23">-74</text></g>
<g id="m69" transform="translate(223,2150)"><use href="#B"/><text class="a b" x="10" y="14.5">Майков А. А.</text><text class="r" x="10.5" y="24">R:316</text><text class="r" x="10.5" y="35">R:281</text><text class="a" x="10" y="45">Сиротюк Ю. В.</text><text class="s" x="65.5" y="31.5">3:2</text><text class="k" x="105" y="29.5">69</text><text class="l" x="121" y="36">-72</text></g>
<g id="m70" transform="translate(223,2270)"><use href="#B"/><text class="a b" x="10" y="14.5">Григорович С....</text><text class="r" x="10.5" y="24">R:285</text><text class="r" x="10.5" y="35">R:203</text><text class="a" x="10" y="45">Карнаев С. Д.</text><text class="s" x="65.5" y="31.5">3:0</text><text class="k" x="105" y="29.5">70</text><text class="l" x="121" y="23">-72</text></g>
<g id="m71" transform="translate(398,2210)"><use href="#B"/><text class="a b" x="10" y="14.5">Майков А. А.</text><text class="r" x="10.5" y="24">R:316</text><text class="r" x="10.5" y="35">R:285</text><text class="a" x="10" y="45">Григорович С....</text><text class="s" x="65.5" y="31.5">Тех</text><text class="k" x="105" y="29.5">71</text><use href="#P" x="107.5" y="-1.5" fill="#ffffe0"/><text class="p" x="118.25" y="13">17</text><use href="#P" x="107.5" y="34.5" fill="#ffffe0"/><text class="p" x="118.25" y="49">18</text></g>
<g id="m77" transform="translate(573,2120)"><use href="#B"/><use href="#S1"/><use href="#S2"/><text class="k" x="-16.5" y="15">-30</text><text class="k" x="-16.5" y="45">-31</text><text class="a" x="10" y="14.5">Колегова К. А.</text><text class="r" x="10.5" y="24">R:60</text><text class="r" x="10.5" y="35">R:33</text><text class="a b" x="10" y="45">Маркин Н. Н.</text><text class="s" x="65.5" y="31.5">0:3</text><text class="k" x="105" y="29.5">77</text><use href="#P" x="107.5" y="-1.5" fill="#ffffe0"/><text class="p" x="118.25" y="13">29</text></g>
<g id="m78" transform="translate(748,2120)"><use href="#B"/><use href="#S1"/><text class="k" x="-16.5" y="15">-29</text><text class="a" x="10" y="14.5">Понеделко П. С.</text><text class="r" x="10.5" y="24">R:85</text><text class="r" x="10.5" y="35">R:33</text><text class="a b" x="10" y="45">Маркин Н. Н.</text><text class="s" x="65.5" y="31.5">2:3</text><text class="k" x="105" y="29.5">78</text><text class="l" x="121" y="36">-81</text></g>
<g id="m79" transform="translate(748,2180)"><use href="#B"/><use href="#S1"/><use href="#S2"/><text class="k" x="-16.5" y="15">-32</text><text class="k" x="-16.5" y="45">-33</text><text class="a b" x="10" y="14.5">Духанина М. В.</text><text class="r" x="10.5" y="24">R:82</text><text class="r" x="10.5" y="35">R:84</text><text class="a" x="10" y="45">Никитина С.</text><text class="s" x="65.5" y="31.5">3:2</text><text class="k" x="105" y="29.5">79</text><text class="l" x="121" y="23">-81</text></g>
<g id="m80" transform="translate(923,2150)"><use href="#B"/><text class="a b" x="10" y="14.5">Маркин Н. Н.</text><text class="r" x="10.5" y="24">R:33</text><text class="r" x="10.5" y="35">R:82</text><text class="a" x="10" y="45">Духанина М. В.</text><text class="s" x="65.5" y="31.5">3:0</text><text class="k" x="105" y="29.5">80</text><use href="#P" x="107.5" y="-1.5" fill="#ffffe0"/><text class="p" x="118.25" y="13">25</text><use href="#P" x="107.5" y="34.5" fill="#ffffe0"/><text class="p" x="118.25" y="49">26</text></g>
<g id="m55" transform="translate(1098,2120)"><use href="#B"/><use href="#S1"/><use href="#S2"/><text class="k" x="-16.5" y="15">-52</text><text class="k" x="-16.5" y="45">-53</text><text class="a" x="10" y="14.5">Бойцов С. Н.</text><text class="r" x="10.5" y="24">R:533</text><text class="r" x="10.5" y="35">R:495</text><text class="a b" x="10" y="45">Ревидов В. В.</text><text class="s" x="65.5" y="31.5">0:3</text><text class="k" x="105" y="29.5">55</text><use href="#P" x="107.5" y="-1.5" fill="#ffffe0"/><text class="p" x="118.25" y="13">6</text><use href="#P" x="107.5" y="34.5" fill="#ffffe0"/><text class="p" x="118.25" y="49">5</text></g>
<g id="m56" transform="translate(1098,2215)"><use href="#B"/><use href="#S1"/><use href="#S2"/><text class="k" x="-16.5" y="15">-50</text><text class="k" x="-16.5" y="45">-51</text><text class="a" x="10" y="14.5">Зайцев С. А.</text><text class="r" x="10.5" y="24">R:436</text><text class="r" x="10.5" y="35">R:577</text><text class="a b" x="10" y="45">Куликов К. А.</text><text class="s" x="65.5" y="31.5">Тех</text><text class="k" x="105" y="29.5">56</text><use href="#P" x="107.5" y="-1.5" fill="#ffffe0"/><text class="p" x="118.25" y="13">8</text><use href="#P" x="107.5" y="34.5" fill="#ffffe0"/><text class="p" x="118.25" y="49">7</text></g>

<g id="m73" transform="translate(48,2395)"><use href="#B"/><use href="#S1"/><use href="#S2"/><text class="k" x="-16.5" y="15">-65</text><text class="k" x="-16.5" y="45">-66</text><text class="a" x="10" y="14.5">Боденеев Я. Д.</text><text class="r" x="10.5" y="24">R:113</text><text class="r" x="10.5" y="35">R:276</text><text class="a b" x="10" y="45">Носков А. Е.</text><text class="s" x="65.5" y="31.5">0:3</text><text class="k" x="105" y="29.5">73</text><text class="l" x="121" y="36">-76</text></g>
<g id="m74" transform="translate(48,2455)"><use href="#B"/><use href="#S1"/><use href="#S2"/><text class="k" x="-16.5" y="15">-67</text><text class="k" x="-16.5" y="45">-68</text><text class="a b" x="10" y="14.5">Жарков А. Д.</text><text class="r" x="10.5" y="24">R:269</text><text class="r" x="10.5" y="35">R:305</text><text class="a" x="10" y="45">Кошовкин Д. М.</text><text class="s" x="65.5" y="31.5">3:0</text><text class="k" x="105" y="29.5">74</text><text class="l" x="121" y="23">-76</text></g>
<g id="m75" transform="translate(223,2425)"><use href="#B"/><text class="a" x="10" y="14.5">Носков А. Е.</text><text class="r" x="10.5" y="24">R:276</text><text class="r" x="10.5" y="35">R:269</text><text class="a b" x="10" y="45">Жарков А. Д.</text><text class="s" x="65.5" y="31.5">0:3</text><text class="k" x="105" y="29.5">75</text><use href="#P" x="107.5" y="-1.5" fill="#ffffe0"/><text class="p" x="118.25" y="13">22</text><use href="#P" x="107.5" y="34.5" fill="#ffffe0"/><text class="p" x="118.25" y="49">21</text></g>
<g id="m61" transform="translate(398,2395)"><use href="#B"/><use href="#S1"/><use href="#S2"/><text class="k" x="-16.5" y="15">-42</text><text class="k" x="-16.5" y="45">-43</text><text class="a" x="10" y="14.5">Вижо В. Ю.</text><text class="r" x="10.5" y="24">R:355</text><text class="r" x="10.5" y="35">R:559</text><text class="a b" x="10" y="45">Голенцев А. А.</text><text class="s" x="65.5" y="31.5">2:3</text><text class="k" x="105" y="29.5">61</text><text class="l" x="121" y="36">-64</text></g>
<g id="m62" transform="translate(398,2455)"><use href="#B"/><use href="#S1"/><use href="#S2"/><text class="k" x="-16.5" y="15">-44</text><text class="k" x="-16.5" y="45">-45</text><text class="a" x="10" y="14.5">Андреев К. В.</text><text class="r" x="10.5" y="24">R:408</text><text class="r" x="10.5" y="35">R:352</text><text class="a b" x="10" y="45">Шульгин И. А.</text><text class="s" x="65.5" y="31.5">1:3</text><text class="k" x="105" y="29.5">62</text><text class="l" x="121" y="23">-64</text></g>
<g id="m63" transform="translate(573,2425)"><use href="#B"/><text class="a" x="10" y="14.5">Голенцев А. А.</text><text class="r" x="10.5" y="24">R:559</text><text class="r" x="10.5" y="35">R:352</text><text class="a b" x="10" y="45">Шульгин И. А.</text><text class="s" x="65.5" y="31.5">Тех</text><text class="k" x="105" y="29.5">63</text><use href="#P" x="107.5" y="-1.5" fill="#ffffe0"/><text class="p" x="118.25" y="13">14</text><use href="#P" x="107.5" y="34.5" fill="#ffffe0"/><text class="p" x="118.25" y="49">13</text></g>
<g id="m57" transform="translate(748,2395)"><use href="#B"/><use href="#S1"/><use href="#S2"/><text class="k" x="-16.5" y="15">-46</text><text class="k" x="-16.5" y="45">-47</text><text class="a" x="10" y="14.5">Феденёв В. В.</text><text class="r" x="10.5" y="24">R:469</text><text class="r" x="10.5" y="35">R:491</text><text class="a b" x="10" y="45">Якушев Д. В.</text><text class="s" x="65.5" y="31.5">1:3</text><text class="k" x="105" y="29.5">57</text><text class="l" x="121" y="36">-60</text></g>
<g id="m58" transform="translate(748,2455)"><use href="#B"/><use href="#S1"/><use href="#S2"/><text class="k" x="-16.5" y="15">-48</text><text class="k" x="-16.5" y="45">-49</text><text class="a" x="10" y="14.5">Андреев Д. В.</text><text class="r" x="10.5" y="24">R:391</text><text class="r" x="10.5" y="35">R:440</text><text class="a b" x="10" y="45">Евтушенко Р. В.</text><text class="s" x="65.5" y="31.5">2:3</text><text class="k" x="105" y="29.5">58</text><text class="l" x="121" y="23">-60</text></g>
<g id="m59" transform="translate(923,2425)"><use href="#B"/><text class="a b" x="10" y="14.5">Якушев Д. В.</text><text class="r" x="10.5" y="24">R:491</text><text class="r" x="10.5" y="35">R:440</text><text class="a" x="10" y="45">Евтушенко Р. В.</text><text class="s" x="65.5" y="31.5">3:2</text><text class="k" x="105" y="29.5">59</text><use href="#P" x="107.5" y="-1.5" fill="#ffffe0"/><text class="p" x="118.25" y="13">9</text><use href="#P" x="107.5" y="34.5" fill="#ffffe0"/><text class="p" x="118.25" y="49">10</text></g>
<g id="m60" transform="translate(1098,2395)"><use href="#B"/><use href="#S1"/><use href="#S2"/><text class="k" x="-16.5" y="15">-57</text><text class="k" x="-16.5" y="45">-58</text><text class="a" x="10" y="14.5">Феденёв В. В.</text><text class="r" x="10.5" y="24">R:469</text><text class="r" x="10.5" y="35">R:391</text><text class="a b" x="10" y="45">Андреев Д. В.</text><text class="s" x="65.5" y="31.5">1:3</text><text class="k" x="105" y="29.5">60</text><use href="#P" x="107.5" y="-1.5" fill="#ffffe0"/><text class="p" x="118.25" y="13">12</text><use href="#P" x="107.5" y="34.5" fill="#ffffe0"/><text class="p" x="118.25" y="49">11</text></g>

<g id="m81" transform="translate(48,2550)"><use href="#B"/><use href="#S1"/><use href="#S2"/><text class="k" x="-16.5" y="15">-78</text><text class="k" x="-16.5" y="45">-79</text><text class="a b" x="10" y="14.5">Понеделко П. С.</text><text class="r" x="10.5" y="24">R:85</text><text class="r" x="10.5" y="35">R:84</text><text class="a" x="10" y="45">Никитина С.</text><text class="s" x="65.5" y="31.5">3:2</text><text class="k" x="105" y="29.5">81</text><use href="#P" x="107.5" y="-1.5" fill="#ffffe0"/><text class="p" x="118.25" y="13">27</text><use href="#P" x="107.5" y="34.5" fill="#ffffe0"/><text class="p" x="118.25" y="49">28</text></g>
<g id="m76" transform="translate(223,2550)"><use href="#B"/><use href="#S1"/><use href="#S2"/><text class="k" x="-16.5" y="15">-73</text><text class="k" x="-16.5" y="45">-74</text><text class="a" x="10" y="14.5">Боденеев Я. Д.</text><text class="r" x="10.5" y="24">R:113</text><text class="r" x="10.5" y="35">R:305</text><text class="a b" x="10" y="45">Кошовкин Д. М.</text><text class="s" x="65.5" y="31.5">1:3</text><text class="k" x="105" y="29.5">76</text><use href="#P" x="107.5" y="-1.5" fill="#ffffe0"/><text class="p" x="118.25" y="13">24</text><use href="#P" x="107.5" y="34.5" fill="#ffffe0"/><text class="p" x="118.25" y="49">23</text></g>
<g id="m72" transform="translate(398,2550)"><use href="#B"/><use href="#S1"/><use href="#S2"/><text class="k" x="-16.5" y="15">-69</text><text class="k" x="-16.5" y="45">-70</text><text class="a" x="10" y="14.5">Сиротюк Ю. В.</text><text class="r" x="10.5" y="24">R:281</text><text class="r" x="10.5" y="35">R:203</text><text class="a b" x="10" y="45">Карнаев С. Д.</text><text class="s" x="65.5" y="31.5">1:3</text><text class="k" x="105" y="29.5">72</text><use href="#P" x="107.5" y="-1.5" fill="#ffffe0"/><text class="p" x="118.25" y="13">20</text><use href="#P" x="107.5" y="34.5" fill="#ffffe0"/><text class="p" x="118.25" y="49">19</text></g>
<g id="m64" transform="translate(573,2550)"><use href="#B"/><use href="#S1"/><use href="#S2"/><text class="k" x="-16.5" y="15">-61</text><text class="k" x="-16.5" y="45">-62</text><text class="a" x="10" y="14.5">Вижо В. Ю.</text><text class="r" x="10.5" y="24">R:355</text><text class="r" x="10.5" y="35">R:408</text><text class="a b" x="10" y="45">Андреев К. В.</text><text class="s" x="65.5" y="31.5">Тех</text><text class="k" x="105" y="29.5">64</text><use href="#P" x="107.5" y="-1.5" fill="#ffffe0"/><text class="p" x="118.25" y="13">16</text><use href="#P" x="107.5" y="34.5" fill="#ffffe0"/><text class="p" x="118.25" y="49">15</text></g>
</g>
</svg>
